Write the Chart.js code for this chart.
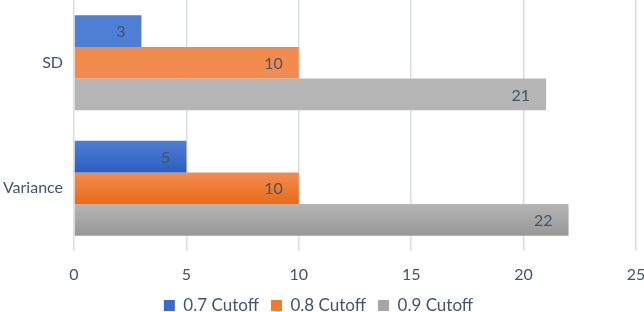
<!DOCTYPE html>
<html>
<head>
<meta charset="utf-8">
<script src="https://cdn.jsdelivr.net/npm/chart.js@4"></script>
<style>
  html, body { margin: 0; padding: 0; background: #fff; }
  #wrap { width: 644px; height: 312px; position: relative; }
</style>
</head>
<body>
<div id="wrap"><canvas id="chart"></canvas></div>
<script>
// Horizontal grouped bars: cutoff levels per statistic.

const categories = ['SD', 'Variance'];
const seriesNames = ['0.7 Cutoff', '0.8 Cutoff', '0.9 Cutoff'];
const cut07 = [3, 5];
const cut08 = [10, 10];
const cut09 = [21, 22];

// top / bottom shades for each series' fill
const SHADES = [
  ['#4f7ed5', '#2c5ec0'],
  ['#f28c4e', '#e86b1a'],
  ['#b5b5b5', '#979797'],
];
const SOLID = ['#3a6bc9', '#ee7b2f', '#a6a6a6'];
const TEXT = '#44546a';
const FONT = 'Lato, "Open Sans", sans-serif';

// Office-like vertical gradient on every bar
const gradientBars = {
  id: 'gradientBars',
  beforeDatasetsDraw(chart) {
    const ctx = chart.ctx;
    chart.data.datasets.forEach((ds, i) => {
      chart.getDatasetMeta(i).data.forEach((bar) => {
        const top = bar.y - bar.height / 2;
        const g = ctx.createLinearGradient(0, top, 0, top + bar.height);
        g.addColorStop(0, SHADES[i][0]);
        g.addColorStop(1, SHADES[i][1]);
        bar.options.backgroundColor = g;
      });
    });
  },
};

// value labels drawn inside the bar end
const barLabels = {
  id: 'barLabels',
  afterDatasetsDraw(chart) {
    const ctx = chart.ctx;
    ctx.save();
    ctx.font = '16px ' + FONT;
    ctx.fillStyle = TEXT;
    ctx.textAlign = 'right';
    ctx.textBaseline = 'middle';
    chart.data.datasets.forEach((ds, i) => {
      chart.getDatasetMeta(i).data.forEach((bar, j) => {
        ctx.fillText(String(ds.data[j]), bar.x - 16, bar.y + 1);
      });
    });
    ctx.restore();
  },
};

new Chart(document.getElementById('chart'), {
  type: 'bar',
  data: {
    labels: categories,
    datasets: [
      { label: seriesNames[0], data: cut07, backgroundColor: SOLID[0] },
      { label: seriesNames[1], data: cut08, backgroundColor: SOLID[1] },
      { label: seriesNames[2], data: cut09, backgroundColor: SOLID[2] },
    ],
  },
  options: {
    indexAxis: 'y',
    responsive: true,
    maintainAspectRatio: false,
    animation: false,
    layout: { padding: { top: 0, right: 8, left: 1, bottom: -12 } },
    datasets: { bar: { categoryPercentage: 0.757, barPercentage: 1.0, borderWidth: 0 } },
    scales: {
      x: {
        min: 0, max: 25,
        ticks: { stepSize: 5, color: TEXT, font: { family: FONT, size: 16 }, padding: 14 },
        grid: { color: '#d9dde5', lineWidth: 1.5, drawTicks: false },
        border: { display: false },
        afterFit: (s) => { s.paddingLeft = 0; s.paddingRight = 0; s.height = 34; },
      },
      y: {
        ticks: { color: TEXT, font: { family: FONT, size: 16 }, padding: 11 },
        grid: { display: false, drawTicks: false },
        border: { display: false },
        afterFit: (s) => { s.paddingTop = 0; s.paddingBottom = 0; s.width = 73; },
      },
    },
    plugins: {
      legend: {
        position: 'bottom',
        labels: {
          color: TEXT, font: { family: FONT, size: 17 },
          boxWidth: 11, boxHeight: 11, padding: 12,
        },
      },
      tooltip: { enabled: false },
    },
  },
  plugins: [gradientBars, barLabels],
});
</script>
</body>
</html>
